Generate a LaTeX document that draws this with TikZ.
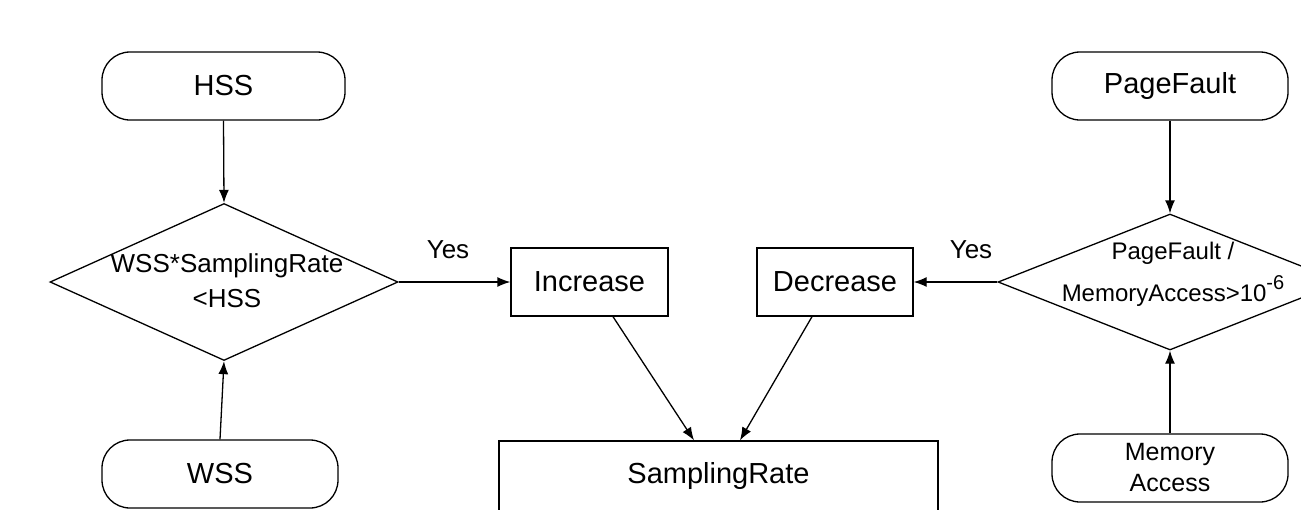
\documentclass[tikz,border=0pt]{standalone}
\usepackage{fontspec}
\setmainfont{Liberation Sans}
\usetikzlibrary{shapes.geometric,arrows.meta}
\begin{document}
\begin{tikzpicture}[x=1pt,y=-1pt,
  every node/.style={font=\fontsize{29}{34}\selectfont},
  term/.style={draw,line width=1.3pt,rounded corners=28pt,minimum height=68pt,inner sep=0pt},
  procbox/.style={draw,line width=1.3pt,minimum height=68pt,inner sep=0pt},
  decision/.style={draw,line width=1.3pt,shape=diamond,inner sep=0pt},
  dtext/.style={align=center,inner sep=0pt},
  conn/.style={line width=1.3pt,-{Latex[length=13pt,width=10pt]}},
  lbl/.style={font=\fontsize{26}{30}\selectfont}
]
\useasboundingbox (0,0) rectangle (1301,509);
\node[term,minimum width=243pt] (hss) at (223.5,86) {HSS};
\node[term,minimum width=236pt] (wss) at (220,474) {WSS};
\node[term,minimum width=236pt] (pf) at (1170,86) {PageFault};
\node[term,minimum width=236pt,align=center,font=\fontsize{25}{31}\selectfont] (ma) at (1170,468) {Memory\\Access};
\node[decision,minimum width=348pt,minimum height=157pt] (d1) at (224,282) {};
\node[dtext,font=\fontsize{26}{35}\selectfont] (d1t) at (227,281) {WSS*SamplingRate\\{}<HSS};
\node[decision,minimum width=344pt,minimum height=136pt] (d2) at (1170,282) {};
\node[dtext,font=\fontsize{24}{42}\selectfont] (d2t) at (1173,274) {PageFault /\\MemoryAccess>10\raisebox{0.5em}{\fontsize{20}{20}\selectfont -6}};
\node[procbox,minimum width=157pt] (inc) at (589.5,282) {Increase};
\node[procbox,minimum width=156pt] (dec) at (835,282) {Decrease};
\node[procbox,minimum width=439pt,minimum height=70pt] (sr) at (718.5,476) {SamplingRate};
\node[lbl] (yes1) at (448,250) {Yes};
\node[lbl] (yes2) at (971,250) {Yes};
\draw[conn] (hss.south) -- (d1.north);
\draw[conn] (wss.north) -- (d1.south);
\draw[conn] (pf.south) -- (d2.north);
\draw[conn] (ma.north) -- (d2.south);
\draw[conn] (d1.east) -- (inc.west);
\draw[conn] (d2.west) -- (dec.east);
\draw[conn] ([xshift=23.5pt]inc.south) -- ([xshift=-24.5pt]sr.north);
\draw[conn] ([xshift=-23pt]dec.south) -- ([xshift=21.5pt]sr.north);
\end{tikzpicture}
\end{document}
